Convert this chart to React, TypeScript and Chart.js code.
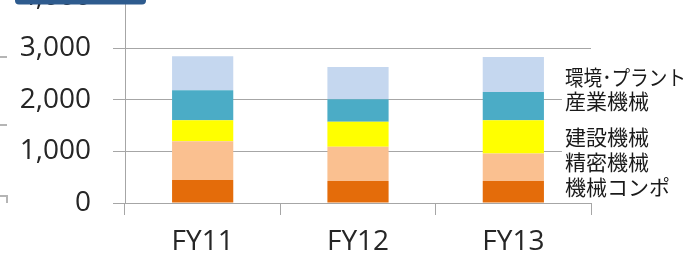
import React, { useEffect, useRef } from "react";
import { Chart, registerables } from "chart.js";

Chart.register(...registerables);

// ---- data ----
const categories = ["FY11", "FY12", "FY13"];
const segmentNames = ["機械コンポ", "精密機械", "建設機械", "産業機械", "環境･プラント"];
const kikaiCompo = [445, 425, 425];
const seimitsuKikai = [755, 665, 535];
const kensetsuKikai = [405, 485, 645];
const sangyoKikai = [580, 440, 550];
const kankyoPlant = [660, 625, 675];
const yMin = 0;
const yMax = 4000;
const yStep = 1000;

const seriesValues = [kikaiCompo, seimitsuKikai, kensetsuKikai, sangyoKikai, kankyoPlant];
const seriesColors = ["#E46C0A", "#FAC090", "#FFFF00", "#4BACC6", "#C5D7EF"];
const labelNudge = [-5, -5, 0, -5, 2.5];

const W = 691;
const H = 304;
const SHIFT = 42;

const decorPlugin = {
  id: "decor",
  afterDatasetsDraw(chart: any) {
    const ctx = chart.ctx as CanvasRenderingContext2D;
    const last = categories.length - 1;
    ctx.save();
    ctx.font = '21px "Noto Sans CJK JP"';
    ctx.textBaseline = "middle";
    ctx.textAlign = "left";
    const items = chart.data.datasets.map((ds: any, i: number) => {
      const el: any = chart.getDatasetMeta(i).data[last];
      const yc = (el.y + el.base) / 2 + labelNudge[i];
      const x = el.x + el.width / 2 + 21;
      const w = Math.min(ctx.measureText(ds.label).width, 121);
      return { label: ds.label, x, yc, w };
    });
    ctx.fillStyle = "#ffffff";
    items.forEach((it: any) => ctx.fillRect(it.x - 3, it.yc - 12, it.w + 6, 24));
    ctx.fillStyle = "#1a1a1a";
    items.forEach((it: any) => ctx.fillText(it.label, it.x, it.yc, 121));
    ctx.restore();
  },
  afterDraw(chart: any) {
    const ctx = chart.ctx as CanvasRenderingContext2D;
    ctx.save();
    // dark blue header tab (cut off at top)
    ctx.fillStyle = "#2E5B8E";
    ctx.beginPath();
    (ctx as any).roundRect(15, 0, 131, SHIFT + 4.5, 4);
    ctx.fill();
    // faint fragments at the left edge
    ctx.strokeStyle = "#b5b5b5";
    ctx.lineWidth = 2;
    ctx.beginPath();
    ctx.moveTo(0, SHIFT + 57);
    ctx.lineTo(7, SHIFT + 57);
    ctx.moveTo(0, SHIFT + 125);
    ctx.lineTo(7, SHIFT + 125);
    ctx.moveTo(0, SHIFT + 196);
    ctx.lineTo(7, SHIFT + 196);
    ctx.lineTo(7, SHIFT + 203);
    ctx.stroke();
    ctx.restore();
  },
};

export default function App() {
  const ref = useRef<HTMLCanvasElement | null>(null);

  useEffect(() => {
    if (!ref.current) return;
    const chart = new Chart(ref.current, {
      type: "bar",
      data: {
        labels: categories,
        datasets: seriesValues.map((vals, i) => ({
          label: segmentNames[i],
          data: vals,
          backgroundColor: seriesColors[i],
          borderWidth: 0,
          categoryPercentage: 1,
          barPercentage: 0.394,
        })),
      },
      options: {
        animation: false,
        responsive: false,
        maintainAspectRatio: false,
        layout: { padding: { top: 27, right: 100, left: 0, bottom: 0 } },
        plugins: {
          legend: { display: false },
          tooltip: { enabled: false },
          title: { display: false },
        },
        scales: {
          x: {
            stacked: true,
            offset: true,
            grid: {
              offset: true,
              drawOnChartArea: false,
              drawTicks: true,
              tickLength: 12,
              color: (c: any) => (c.index === categories.length ? "rgba(0,0,0,0)" : "#a6a6a6"),
            },
            border: { display: true, color: "#a6a6a6", width: 1 },
            ticks: {
              color: "#262626",
              font: { family: '"Open Sans"', size: 28 },
              padding: 10,
              maxRotation: 0,
            },
            afterFit: (s: any) => {
              s.height = 59;
            },
          },
          y: {
            stacked: true,
            min: yMin,
            max: yMax,
            grid: {
              color: "#a6a6a6",
              drawTicks: true,
              tickLength: 12,
            },
            border: { display: true, color: "#a6a6a6", width: 1 },
            ticks: {
              stepSize: yStep,
              color: "#262626",
              font: { family: '"Open Sans"', size: 28 },
              padding: 22,
              callback: (v: any) => Number(v).toLocaleString("en-US"),
            },
            afterFit: (s: any) => {
              s.width = 125;
            },
          },
        },
      },
      plugins: [decorPlugin],
    });
    return () => chart.destroy();
  }, []);

  return (
    <div
      style={{
        position: "fixed",
        left: 0,
        top: 0,
        width: W,
        height: 260,
        overflow: "hidden",
        background: "#ffffff",
      }}
    >
      <div style={{ position: "absolute", left: 0, top: -SHIFT, width: W, height: H }}>
        <canvas ref={ref} width={W} height={H} style={{ width: W, height: H, display: "block" }} />
      </div>
    </div>
  );
}
